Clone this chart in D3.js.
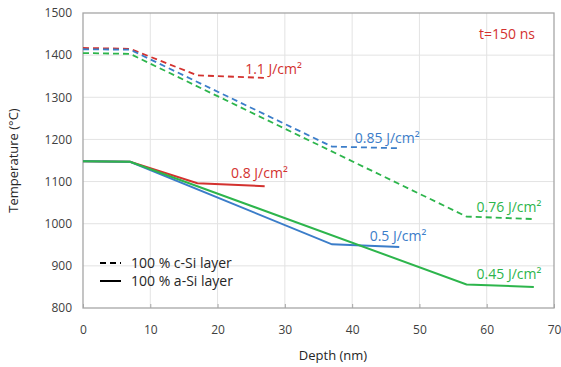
<!DOCTYPE html>
<html>
<head>
<meta charset="utf-8">
<script src="https://cdn.jsdelivr.net/npm/d3@7"></script>
<style>
  body { margin: 0; background: #fff; }
  svg text { font-family: "Open Sans", sans-serif; }
</style>
</head>
<body>
<svg id="chart" width="561" height="367"></svg>
<script>
// Depth (nm) / temperature (°C)
const depthRed = [0, 7, 17, 27];
const depthBlue = [0, 7, 37, 47];
const depthGreen = [0, 7, 57, 67];

const cSi11 = [1417, 1415, 1352, 1346];
const cSi085 = [1414, 1413, 1183, 1179];
const cSi076 = [1405, 1403, 1017, 1011];
const aSi08 = [1148, 1147, 1096, 1089];
const aSi05 = [1148, 1147, 951, 945];
const aSi045 = [1148, 1147, 856, 850];

const xTicks = [0, 10, 20, 30, 40, 50, 60, 70];
const yTicks = [800, 900, 1000, 1100, 1200, 1300, 1400, 1500];

const red = "#d3322f", blue = "#3b7dc9", green = "#2db54c";

const series = [
  { x: depthRed, y: cSi11, color: red, dashed: true, label: "1.1 J/cm²", lx: 24.1, ly: 1355 },
  { x: depthBlue, y: cSi085, color: blue, dashed: true, label: "0.85 J/cm²", lx: 40.4, ly: 1192 },
  { x: depthGreen, y: cSi076, color: green, dashed: true, label: "0.76 J/cm²", lx: 58.5, ly: 1027 },
  { x: depthRed, y: aSi08, color: red, dashed: false, label: "0.8 J/cm²", lx: 22, ly: 1109 },
  { x: depthBlue, y: aSi05, color: blue, dashed: false, label: "0.5 J/cm²", lx: 42.6, ly: 958 },
  { x: depthGreen, y: aSi045, color: green, dashed: false, label: "0.45 J/cm²", lx: 58.5, ly: 868 }
];

const svg = d3.select("#chart");
const margin = { left: 83, right: 7, top: 13, bottom: 59 };
const W = 561, H = 367;

const x = d3.scaleLinear().domain([0, 70]).range([margin.left, W - margin.right]);
const y = d3.scaleLinear().domain([800, 1500]).range([H - margin.bottom, margin.top]);

// gridlines
svg.append("g").selectAll("line").data(xTicks.slice(1, -1)).enter().append("line")
  .attr("x1", d => x(d)).attr("x2", d => x(d))
  .attr("y1", y(800)).attr("y2", y(1500))
  .attr("stroke", "#e3e3e3").attr("stroke-width", 1);
svg.append("g").selectAll("line").data(yTicks.slice(1, -1)).enter().append("line")
  .attr("x1", x(0)).attr("x2", x(70))
  .attr("y1", d => y(d)).attr("y2", d => y(d))
  .attr("stroke", "#e3e3e3").attr("stroke-width", 1);

// frame
svg.append("rect")
  .attr("x", x(0)).attr("y", y(1500))
  .attr("width", x(70) - x(0)).attr("height", y(800) - y(1500))
  .attr("fill", "none").attr("stroke", "#a6a6a6").attr("stroke-width", 1.3);

// axes
const xAxis = svg.append("g").attr("transform", `translate(0,${y(800)})`)
  .call(d3.axisBottom(x).tickValues(xTicks).tickSize(4).tickPadding(13));
const yAxis = svg.append("g").attr("transform", `translate(${x(0)},0)`)
  .call(d3.axisLeft(y).tickValues(yTicks).tickFormat(d3.format("d")).tickSize(0).tickPadding(11));
[xAxis, yAxis].forEach(a => {
  a.select(".domain").remove();
  a.selectAll("line").attr("stroke", "#a6a6a6").attr("transform", "translate(0,-4)");
  a.selectAll("text").attr("fill", "#404040").style("font-size", "12px");
});

// lines
const line = d3.line().x(d => x(d[0])).y(d => y(d[1]));
series.forEach(s => {
  const pts = s.x.map((d, i) => [d, s.y[i]]);
  svg.append("path").datum(pts)
    .attr("d", line)
    .attr("fill", "none")
    .attr("stroke", s.color)
    .attr("stroke-width", s.dashed ? 1.8 : 2)
    .attr("stroke-dasharray", s.dashed ? "6,4" : null);
  svg.append("text")
    .attr("x", x(s.lx)).attr("y", y(s.ly))
    .attr("fill", s.color).style("font-size", "14px")
    .text(s.label);
});

// time annotation
svg.append("text").attr("x", 479).attr("y", 39)
  .attr("fill", red).style("font-size", "14px").text("t=150 ns");

// legend
const legend = [
  { dashed: true, text: "100 % c-Si layer", yy: 263 },
  { dashed: false, text: "100 % a-Si layer", yy: 281 }
];
legend.forEach(l => {
  svg.append("line").attr("x1", 100).attr("x2", 121)
    .attr("y1", l.yy).attr("y2", l.yy)
    .attr("stroke", "#000").attr("stroke-width", 2)
    .attr("stroke-dasharray", l.dashed ? "6,4" : null);
  svg.append("text").attr("x", 131).attr("y", l.yy + 5)
    .attr("fill", "#262626").style("font-size", "14px").text(l.text);
});

// axis titles
svg.append("text").attr("x", 333).attr("y", 360)
  .attr("text-anchor", "middle").attr("fill", "#262626")
  .style("font-size", "13px").text("Depth (nm)");
svg.append("text")
  .attr("transform", `translate(18,${(y(800) + y(1500)) / 2}) rotate(-90)`)
  .attr("text-anchor", "middle").attr("fill", "#262626")
  .style("font-size", "13px").text("Temperature (°C)");
</script>
</body>
</html>
